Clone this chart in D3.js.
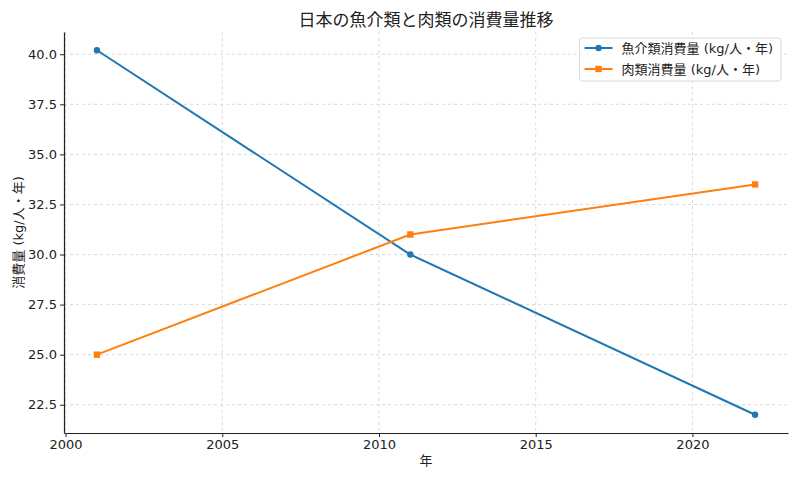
<!DOCTYPE html>
<html><head><meta charset="utf-8">
<script src="https://cdn.jsdelivr.net/npm/d3@7"></script>
<style>
body{margin:0;background:#fff;}
text{font-family:"DejaVu Sans","Noto Sans CJK JP",sans-serif;fill:#222;}
</style></head><body>
<svg id="c" width="800" height="480"></svg>
<script>
const years = [2001, 2011, 2022];
const fish = [40.2, 30.0, 22.0];
const meat = [25.0, 31.0, 33.5];
const seriesNames = ["魚介類消費量 (kg/人・年)", "肉類消費量 (kg/人・年)"];
const xTicks = [2000, 2005, 2010, 2015, 2020];
const yTicks = [22.5, 25.0, 27.5, 30.0, 32.5, 35.0, 37.5, 40.0];
const title = "日本の魚介類と肉類の消費量推移";
const xLabel = "年";
const yLabel = "消費量 (kg/人・年)";
const colors = ["#1f77b4", "#ff7f0e"];

const FF = '"DejaVu Sans","Noto Sans CJK JP",sans-serif';
const svg = d3.select("#c");
const L = 64, R = 788, T = 32, B = 433;
const x = d3.scaleLinear().domain([1999.95, 2023.05]).range([L, R]);
const y = d3.scaleLinear().domain([21.09, 41.11]).range([B, T]);

// grid
const g = svg.append("g");
g.selectAll(".gx").data(xTicks).join("line")
  .attr("x1", d => x(d)).attr("x2", d => x(d)).attr("y1", T).attr("y2", B)
  .attr("stroke", "#d0d0d0").attr("stroke-width", 0.8).attr("stroke-dasharray", "3,3");
g.selectAll(".gy").data(yTicks).join("line")
  .attr("x1", L).attr("x2", R).attr("y1", d => y(d)).attr("y2", d => y(d))
  .attr("stroke", "#d0d0d0").attr("stroke-width", 0.8).attr("stroke-dasharray", "3,3");

// axes
const xa = svg.append("g").attr("transform", `translate(0,${B})`)
  .call(d3.axisBottom(x).tickValues(xTicks).tickFormat(d3.format("d")).tickSize(4).tickSizeOuter(0));
const ya = svg.append("g").attr("transform", `translate(${L},0)`)
  .call(d3.axisLeft(y).tickValues(yTicks).tickFormat(d3.format(".1f")).tickSize(4).tickSizeOuter(0));
[xa, ya].forEach(a => {
  a.attr("font-size", 13).attr("font-family", FF);
  a.select(".domain").attr("stroke", "#222").attr("stroke-width", 1.2);
  a.selectAll(".tick line").attr("stroke", "#222");
  a.selectAll(".tick text").attr("fill", "#222");
});

// lines
const data = [fish, meat];
const line = d3.line().x((d, i) => x(years[i])).y(d => y(d));
data.forEach((s, k) => {
  svg.append("path").datum(s).attr("d", line).attr("fill", "none")
    .attr("stroke", colors[k]).attr("stroke-width", 2);
});
svg.selectAll(".m0").data(fish).join("circle")
  .attr("cx", (d, i) => x(years[i])).attr("cy", d => y(d)).attr("r", 3.2).attr("fill", colors[0]);
svg.selectAll(".m1").data(meat).join("rect")
  .attr("x", (d, i) => x(years[i]) - 3.2).attr("y", d => y(d) - 3.2)
  .attr("width", 6.4).attr("height", 6.4).attr("fill", colors[1]);

// title & labels
svg.append("text").attr("x", (L + R) / 2).attr("y", 26).attr("text-anchor", "middle")
  .attr("font-size", 17).text(title);
svg.append("text").attr("x", (L + R) / 2).attr("y", 465).attr("text-anchor", "middle")
  .attr("font-size", 13).text(xLabel);
svg.append("text").attr("transform", `translate(23,${(T + B) / 2}) rotate(-90)`)
  .attr("text-anchor", "middle").attr("font-size", 13).text(yLabel);

// legend
const lg = svg.append("g");
const box = lg.append("rect").attr("y", 38).attr("height", 43)
  .attr("rx", 3).attr("fill", "#fff").attr("fill-opacity", 0.85).attr("stroke", "#d8d8d8");
const items = seriesNames.map((n, k) => {
  const yy = 48 + k * 21;
  const it = lg.append("g");
  it.append("line").attr("x1", 0).attr("x2", 28).attr("y1", yy).attr("y2", yy)
    .attr("stroke", colors[k]).attr("stroke-width", 2);
  if (k === 0) it.append("circle").attr("cx", 14).attr("cy", yy).attr("r", 3.2).attr("fill", colors[k]);
  else it.append("rect").attr("x", 10.8).attr("y", yy - 3.2).attr("width", 6.4).attr("height", 6.4).attr("fill", colors[k]);
  const t = it.append("text").attr("x", 37).attr("y", yy + 4.5).attr("font-size", 13).text(n);
  return {it, w: t.node().getComputedTextLength()};
});
const maxW = d3.max(items, d => d.w);
const bw = maxW + 37 + 5 + 8;
const bx = 781 - bw;
box.attr("x", bx).attr("width", bw);
items.forEach(d => d.it.attr("transform", `translate(${bx + 5},0)`));
</script>
</body></html>
